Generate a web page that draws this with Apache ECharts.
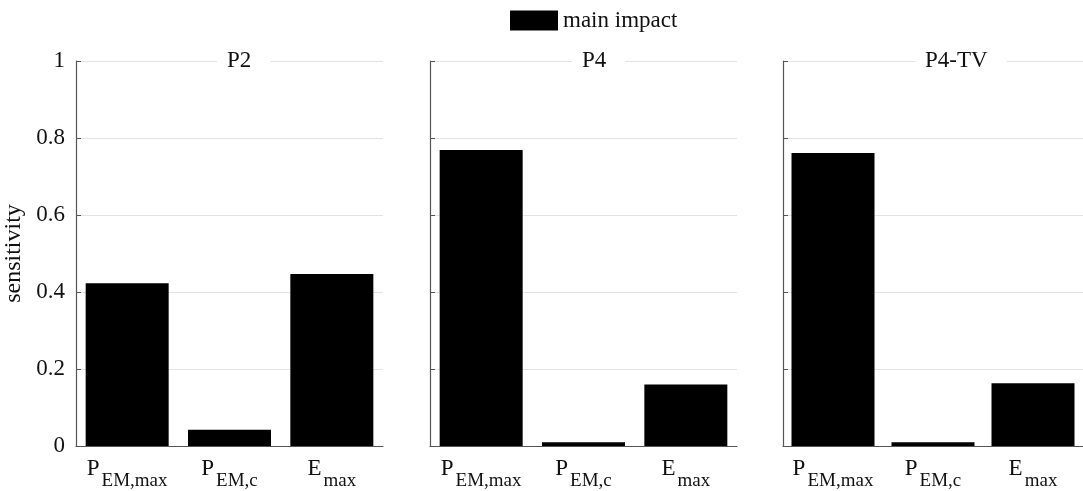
<!DOCTYPE html>
<html><head><meta charset="utf-8">
<script src="https://cdn.jsdelivr.net/npm/echarts@6/dist/echarts.min.js"></script>
<style>html,body{margin:0;padding:0;background:#fff}#c{width:1083px;height:491px}</style>
</head><body><div id="c"></div>
<script>
const categories = ['{p|P}{s|EM,max}', '{p|P}{s|EM,c}', '{p|E}{s|max}'];
const panelTitles = ['P2', 'P4', 'P4-TV'];
const valuesP2 = [0.423, 0.042, 0.447];
const valuesP4 = [0.769, 0.010, 0.160];
const valuesP4TV = [0.761, 0.010, 0.163];
const yTicks = [0, 0.2, 0.4, 0.6, 0.8, 1];
const seriesName = 'main impact';
const allValues = [valuesP2, valuesP4, valuesP4TV];

const FONT = '"Liberation Serif", "DejaVu Serif", serif';
const lefts = [76, 430, 783];
const titleLefts = [217, 572, 915];
const chart = echarts.init(document.getElementById('c'));
const grids = [], xAxes = [], yAxes = [], series = [], titles = [];
for (let i = 0; i < 3; i++) {
  grids.push({left: lefts[i], width: 307, top: 61, bottom: 45, containLabel: false});
  xAxes.push({
    type: 'category', gridIndex: i, data: categories,
    axisLine: {show: true, lineStyle: {color: '#555', width: 1.2}},
    axisTick: {show: false},
    axisLabel: {
      interval: 0, margin: 11, color: '#111', fontFamily: FONT,
      rich: {
        p: {fontSize: 23, fontFamily: FONT, color: '#111', verticalAlign: 'top', lineHeight: 23},
        s: {fontSize: 19, fontFamily: FONT, color: '#111', verticalAlign: 'top', lineHeight: 19, padding: [15, 0, 0, 2]}
      }
    }
  });
  yAxes.push({
    type: 'value', gridIndex: i, min: 0, max: 1, interval: 0.2,
    name: i === 0 ? 'sensitivity' : '', nameLocation: 'middle', nameGap: 50, nameRotate: 90,
    nameTextStyle: {fontFamily: FONT, fontSize: 24, color: '#111'},
    axisLine: {show: true, lineStyle: {color: '#555', width: 1.2}},
    axisTick: {show: true, inside: true, length: 5, lineStyle: {color: '#555'}},
    splitLine: {show: true, lineStyle: {color: '#e3e3e3', width: 1.2}},
    axisLabel: {show: i === 0, margin: 11, fontFamily: FONT, fontSize: 23, color: '#111',
      formatter: v => yTicks.includes(Math.round(v*10)/10) ? String(Math.round(v*10)/10) : ''}
  });
  series.push({
    name: seriesName, type: 'bar', xAxisIndex: i, yAxisIndex: i,
    data: allValues[i], barWidth: 83, itemStyle: {color: '#000'}
  });
  titles.push({
    text: panelTitles[i], left: titleLefts[i], top: 48,
    backgroundColor: '#fff', padding: [0, 19, 0, 10],
    textStyle: {fontFamily: FONT, fontSize: 23, fontWeight: 'normal', color: '#111', lineHeight: 26}
  });
}
chart.setOption({
  animation: false,
  title: titles,
  legend: {
    data: [seriesName], top: 9, left: 510, itemWidth: 48, itemHeight: 20,
    icon: 'rect', padding: 0,
    textStyle: {fontFamily: FONT, fontSize: 23, color: '#111'}
  },
  grid: grids, xAxis: xAxes, yAxis: yAxes, series: series
});
</script></body></html>
